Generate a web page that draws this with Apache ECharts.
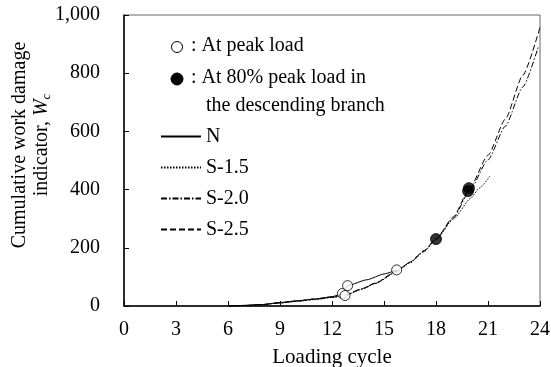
<!DOCTYPE html>
<html><head><meta charset="utf-8">
<script src="https://cdn.jsdelivr.net/npm/echarts@6/dist/echarts.min.js"></script>
<style>html,body{margin:0;padding:0;background:#fff}#c{width:551px;height:367px}</style>
</head><body><div id="c"></div>
<script>
var xTicks = [0, 3, 6, 9, 12, 15, 18, 21, 24];
var yTicks = [0, 200, 400, 600, 800, 1000];

var nX = [6, 7, 8, 9, 10, 11, 12, 12.6, 12.9, 14, 15, 15.73];
var nY = [0, 2, 5, 12, 18, 24, 32, 42, 70, 90, 110, 124];

var s15X = [6, 7, 8, 9, 10, 11, 12, 12.8, 13.7, 14.5, 15.7, 16.5, 17.3, 18, 19, 20, 20.5, 21.1];
var s15Y = [0, 2, 5, 10, 16, 22, 29, 37, 57, 77, 116, 148, 186, 228, 298, 370, 405, 446];

var s20X = [6, 7, 8, 9, 10, 11, 12, 12.8, 13.7, 14.5, 15.7, 16.5, 17.3, 18, 19, 19.9, 21, 22, 23, 23.9];
var s20Y = [0, 2, 5, 11, 17, 23, 30, 38, 58, 78, 118, 150, 188, 230, 302, 392, 502, 618, 752, 890];

var s25X = [6, 7, 8, 9, 10, 11, 12, 12.8, 13.7, 14.5, 15.7, 16.5, 17.3, 18, 19, 19.9, 21, 22, 23, 24];
var s25Y = [0, 2, 5, 11, 17, 24, 31, 39, 59, 79, 119, 151, 190, 231, 306, 400, 518, 642, 792, 958];

var peakX = [12.6, 12.75, 12.9, 15.73];
var peakY = [43, 36, 70, 124];
var descX = [18.0, 19.85, 19.9];
var descY = [230, 395, 405];

function zip(a, b) { return a.map(function (v, i) { return [v, b[i]]; }); }

var FONT = 'Liberation Serif';
var chart = echarts.init(document.getElementById('c'), null, {renderer: 'canvas'});
chart.setOption({
  animation: false,
  backgroundColor: '#fff',
  grid: {left: 124, right: 11, top: 15, bottom: 61, show: true, borderColor: '#666', borderWidth: 1,
    containLabel: false, outerBoundsMode: 'none'},
  xAxis: {
    type: 'value', min: 0, max: 24, interval: 3,
    name: 'Loading cycle', nameLocation: 'middle', nameGap: 41,
    nameTextStyle: {fontFamily: FONT, fontSize: 21, color: '#000'},
    axisLine: {show: true, onZero: false, lineStyle: {color: '#000', width: 1.5}},
    axisTick: {show: true, inside: true, length: 5, lineStyle: {color: '#000'}},
    axisLabel: {fontFamily: FONT, fontSize: 20, color: '#000', margin: 14,
      formatter: function (v) { return xTicks.indexOf(v) >= 0 ? String(v) : ''; }},
    splitLine: {show: false}
  },
  yAxis: {
    type: 'value', min: 0, max: 1000, interval: 200,
    axisLine: {show: true, lineStyle: {color: '#000', width: 1.5}},
    axisTick: {show: true, inside: true, length: 5, lineStyle: {color: '#000'}},
    axisLabel: {fontFamily: FONT, fontSize: 20, color: '#000', margin: 24,
      formatter: function (v) { return yTicks.indexOf(v) >= 0 ? v.toLocaleString('en-US') : ''; }},
    splitLine: {show: false}
  },
  legend: {
    data: ['N', 'S-1.5', 'S-2.0', 'S-2.5'],
    orient: 'vertical', left: 155, top: 121, itemWidth: 40, itemHeight: 14, itemGap: 10,
    itemStyle: {opacity: 0},
    textStyle: {fontFamily: FONT, fontSize: 20, lineHeight: 21, color: '#000'},
    inactiveColor: '#000'
  },
  graphic: [
    {type: 'circle', shape: {cx: 177, cy: 47, r: 5.5}, style: {fill: '#fff', stroke: '#000', lineWidth: 1}},
    {type: 'text', left: 191, top: 36, style: {text: ': At peak load', font: '20px "Liberation Serif"', fill: '#000'}},
    {type: 'circle', shape: {cx: 177, cy: 79, r: 6}, style: {fill: '#000', stroke: '#000', lineWidth: 1}},
    {type: 'text', left: 191, top: 68, style: {text: ': At 80% peak load in', font: '20px "Liberation Serif"', fill: '#000'}},
    {type: 'text', left: 206, top: 96, style: {text: 'the descending branch', font: '20px "Liberation Serif"', fill: '#000'}},
    {type: 'text', x: 31, y: 145, rotation: Math.PI / 2,
      style: {
        text: 'Cumulative work damage\n{n|indicator, }{w|W}{s|c}',
        align: 'center', verticalAlign: 'middle', lineHeight: 22,
        font: '20px "Liberation Serif"', fill: '#000',
        rich: {
          n: {fontFamily: FONT, fontSize: 20, color: '#000'},
          w: {fontFamily: FONT, fontSize: 20, fontStyle: 'italic', color: '#000'},
          s: {fontFamily: FONT, fontSize: 13, fontStyle: 'italic', color: '#000', padding: [10, 0, 0, 0]}
        }
      }}
  ],
  series: [
    {name: 'N', type: 'line', data: zip(nX, nY), symbol: 'none', smooth: 0.2, smoothMonotone: 'x',
      lineStyle: {color: '#000', width: 1, type: 'solid'}, itemStyle: {color: '#000'}},
    {name: 'S-1.5', type: 'line', data: zip(s15X, s15Y), symbol: 'none', smooth: 0.2, smoothMonotone: 'x',
      lineStyle: {color: '#000', width: 1, type: [1.5, 1.5]}, itemStyle: {color: '#000'}},
    {name: 'S-2.0', type: 'line', data: zip(s20X, s20Y), symbol: 'none', smooth: 0.2, smoothMonotone: 'x',
      lineStyle: {color: '#000', width: 1, type: [6, 2, 1.5, 2]}, itemStyle: {color: '#000'}},
    {name: 'S-2.5', type: 'line', data: zip(s25X, s25Y), symbol: 'none', smooth: 0.2, smoothMonotone: 'x',
      lineStyle: {color: '#000', width: 1, type: [6, 3]}, itemStyle: {color: '#000'}},
    {name: 'peak', type: 'scatter', data: zip(peakX, peakY), symbol: 'circle', symbolSize: 10,
      itemStyle: {color: '#fff', borderColor: '#000', borderWidth: 1}, z: 5},
    {name: 'desc', type: 'scatter', data: zip(descX, descY), symbol: 'circle', symbolSize: 11,
      itemStyle: {color: '#000', borderColor: '#000', borderWidth: 1}, z: 5}
  ]
});
</script></body></html>
